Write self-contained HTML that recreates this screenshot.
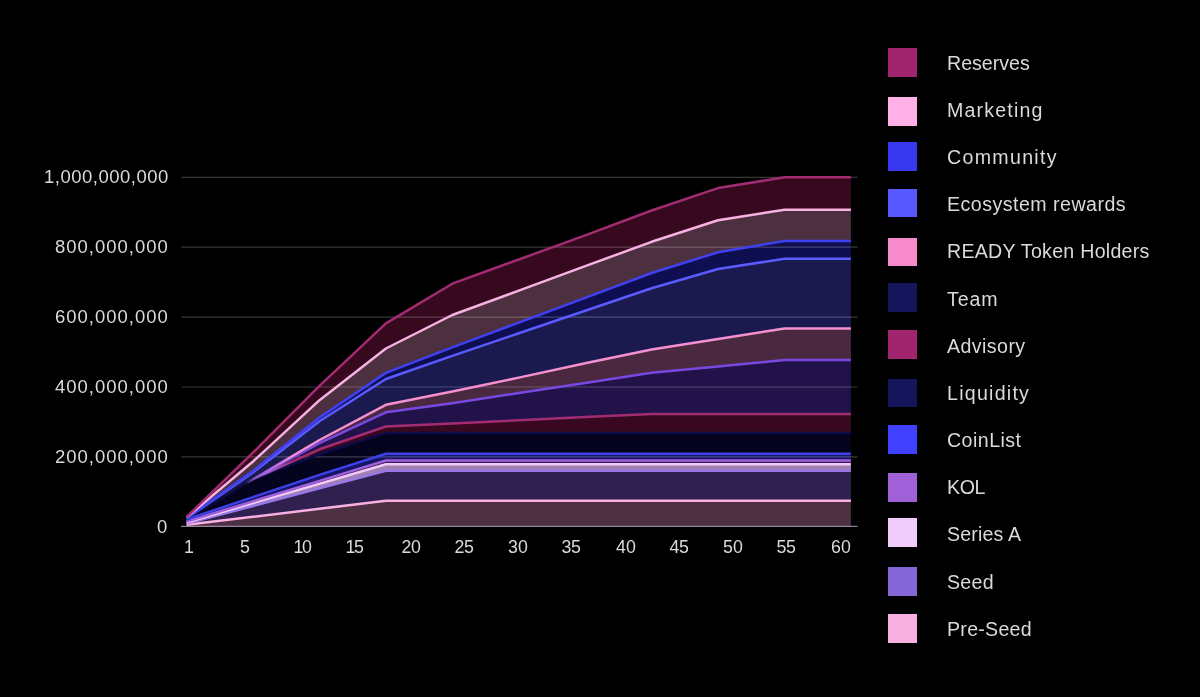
<!DOCTYPE html>
<html><head><meta charset="utf-8"><title>Token release schedule</title>
<style>
html,body{margin:0;padding:0;background:#000;}
body{width:1200px;height:697px;position:relative;overflow:hidden;font-family:"Liberation Sans",sans-serif;color:#dadada;}
svg{position:absolute;left:0;top:0;}
.yl{position:absolute;height:24px;line-height:24px;font-size:18.5px;white-space:nowrap;text-align:right;}
.xl{position:absolute;top:535px;width:40px;text-align:center;height:24px;line-height:24px;font-size:17.8px;white-space:nowrap;}
.sw{position:absolute;left:887.9px;width:28.8px;height:28.8px;}
.lt{position:absolute;left:947.1px;height:24px;line-height:24px;font-size:19.6px;white-space:nowrap;}
.yl,.xl,.lt{will-change:transform;}
</style></head><body>
<svg width="1200" height="697" viewBox="0 0 1200 697">
<defs><linearGradient id="g6" gradientUnits="userSpaceOnUse" x1="246" y1="0" x2="294" y2="0"><stop offset="0" stop-color="#a866e0" stop-opacity="0"/><stop offset="0.45" stop-color="#a866e0" stop-opacity="0.9"/><stop offset="1" stop-color="#a22c72" stop-opacity="1"/></linearGradient><linearGradient id="g7" gradientUnits="userSpaceOnUse" x1="246" y1="0" x2="294" y2="0"><stop offset="0" stop-color="#a866e0" stop-opacity="0"/><stop offset="0.45" stop-color="#a866e0" stop-opacity="0.9"/><stop offset="1" stop-color="#7848e0" stop-opacity="1"/></linearGradient><linearGradient id="g8" gradientUnits="userSpaceOnUse" x1="246" y1="0" x2="294" y2="0"><stop offset="0" stop-color="#a866e0" stop-opacity="0"/><stop offset="0.45" stop-color="#a866e0" stop-opacity="0.9"/><stop offset="1" stop-color="#f590d0" stop-opacity="1"/></linearGradient></defs>
<polygon points="186.6,517.0 253.0,452.7 319.5,385.9 385.9,323.4 452.3,283.7 518.8,259.5 585.2,235.3 651.6,210.5 718.0,188.1 784.5,177.3 850.9,177.3 850.9,209.7 784.5,209.7 718.0,220.3 651.6,241.8 585.2,266.2 518.8,290.6 452.3,315.0 385.9,348.5 319.5,400.2 253.0,461.5 186.6,517.4" fill="#36091f"/>
<polygon points="186.6,517.4 253.0,461.5 319.5,400.2 385.9,348.5 452.3,315.0 518.8,290.6 585.2,266.2 651.6,241.8 718.0,220.3 784.5,209.7 850.9,209.7 850.9,241.0 784.5,241.0 718.0,252.3 651.6,273.0 585.2,297.8 518.8,322.6 452.3,347.3 385.9,372.9 319.5,417.6 253.0,470.9 186.6,518.0" fill="#4d3040"/>
<polygon points="186.6,518.0 253.0,470.9 319.5,417.6 385.9,372.9 452.3,347.3 518.8,322.6 585.2,297.8 651.6,273.0 718.0,252.3 784.5,241.0 850.9,241.0 850.9,258.7 784.5,258.7 718.0,269.0 651.6,288.2 585.2,310.8 518.8,333.3 452.3,355.9 385.9,379.0 319.5,421.3 253.0,472.5 186.6,518.4" fill="#0e0e50"/>
<polygon points="186.6,518.4 253.0,472.5 319.5,421.3 385.9,379.0 452.3,355.9 518.8,333.3 585.2,310.8 651.6,288.2 718.0,269.0 784.5,258.7 850.9,258.7 850.9,328.5 784.5,328.5 718.0,339.0 651.6,349.5 585.2,363.3 518.8,377.6 452.3,391.6 385.9,404.8 319.5,440.0 253.0,479.2 186.6,518.8" fill="#1a1a4e"/>
<polygon points="186.6,518.8 253.0,479.2 319.5,440.0 385.9,404.8 452.3,391.6 518.8,377.6 585.2,363.3 651.6,349.5 718.0,339.0 784.5,328.5 850.9,328.5 850.9,360.0 784.5,360.0 718.0,366.4 651.6,372.8 585.2,382.9 518.8,393.0 452.3,403.2 385.9,412.3 319.5,443.1 253.0,479.2 186.6,518.8" fill="#4a2840"/>
<polygon points="186.6,518.8 253.0,479.2 319.5,443.1 385.9,412.3 452.3,403.2 518.8,393.0 585.2,382.9 651.6,372.8 718.0,366.4 784.5,360.0 850.9,360.0 850.9,414.0 784.5,414.0 718.0,414.0 651.6,414.0 585.2,417.1 518.8,420.3 452.3,423.4 385.9,426.5 319.5,449.3 253.0,479.2 186.6,518.8" fill="#22124a"/>
<polygon points="186.6,518.8 253.0,479.2 319.5,449.3 385.9,426.5 452.3,423.4 518.8,420.3 585.2,417.1 651.6,414.0 718.0,414.0 784.5,414.0 850.9,414.0 850.9,433.1 784.5,433.1 718.0,433.1 651.6,433.1 585.2,433.1 518.8,433.1 452.3,433.1 385.9,433.1 319.5,454.0 253.0,479.2 186.6,518.8" fill="#380820"/>
<polygon points="186.6,518.8 253.0,479.2 319.5,454.0 385.9,433.1 452.3,433.1 518.8,433.1 585.2,433.1 651.6,433.1 718.0,433.1 784.5,433.1 850.9,433.1 850.9,453.7 784.5,453.7 718.0,453.7 651.6,453.7 585.2,453.7 518.8,453.7 452.3,453.7 385.9,453.7 319.5,474.9 253.0,497.1 186.6,519.5" fill="#04041e"/>
<polygon points="186.6,519.5 253.0,497.1 319.5,474.9 385.9,453.7 452.3,453.7 518.8,453.7 585.2,453.7 651.6,453.7 718.0,453.7 784.5,453.7 850.9,453.7 850.9,460.5 784.5,460.5 718.0,460.5 651.6,460.5 585.2,460.5 518.8,460.5 452.3,460.5 385.9,460.5 319.5,480.9 253.0,501.2 186.6,521.5" fill="#15156a"/>
<polygon points="186.6,521.5 253.0,501.2 319.5,480.9 385.9,460.5 452.3,460.5 518.8,460.5 585.2,460.5 651.6,460.5 718.0,460.5 784.5,460.5 850.9,460.5 850.9,464.2 784.5,464.2 718.0,464.2 651.6,464.2 585.2,464.2 518.8,464.2 452.3,464.2 385.9,464.2 319.5,483.7 253.0,503.1 186.6,522.5" fill="#3a1a5a"/>
<polygon points="186.6,522.5 253.0,503.1 319.5,483.7 385.9,464.2 452.3,464.2 518.8,464.2 585.2,464.2 651.6,464.2 718.0,464.2 784.5,464.2 850.9,464.2 850.9,470.8 784.5,470.8 718.0,470.8 651.6,470.8 585.2,470.8 518.8,470.8 452.3,470.8 385.9,470.8 319.5,488.4 253.0,506.0 186.6,523.6" fill="#a080b0"/>
<polygon points="186.6,523.6 253.0,506.0 319.5,488.4 385.9,470.8 452.3,470.8 518.8,470.8 585.2,470.8 651.6,470.8 718.0,470.8 784.5,470.8 850.9,470.8 850.9,500.7 784.5,500.7 718.0,500.7 651.6,500.7 585.2,500.7 518.8,500.7 452.3,500.7 385.9,500.7 319.5,508.8 253.0,516.8 186.6,524.8" fill="#30204f"/>
<polygon points="186.6,524.8 253.0,516.8 319.5,508.8 385.9,500.7 452.3,500.7 518.8,500.7 585.2,500.7 651.6,500.7 718.0,500.7 784.5,500.7 850.9,500.7 850.9,526.4 784.5,526.4 718.0,526.4 651.6,526.4 585.2,526.4 518.8,526.4 452.3,526.4 385.9,526.4 319.5,526.4 253.0,526.4 186.6,526.4" fill="#4d3042"/>
<line x1="181.5" x2="857.5" y1="177.3" y2="177.3" stroke="#ffffff" stroke-opacity="0.22" stroke-width="1.2"/>
<line x1="181.5" x2="857.5" y1="247.2" y2="247.2" stroke="#ffffff" stroke-opacity="0.22" stroke-width="1.2"/>
<line x1="181.5" x2="857.5" y1="317.1" y2="317.1" stroke="#ffffff" stroke-opacity="0.22" stroke-width="1.2"/>
<line x1="181.5" x2="857.5" y1="387.0" y2="387.0" stroke="#ffffff" stroke-opacity="0.22" stroke-width="1.2"/>
<line x1="181.5" x2="857.5" y1="456.9" y2="456.9" stroke="#ffffff" stroke-opacity="0.22" stroke-width="1.2"/>
<line x1="181" x2="857.5" y1="526.4" y2="526.4" stroke="#b8a8c8" stroke-opacity="0.75" stroke-width="1.15"/>
<polyline points="186.6,518.8 253.0,479.2" fill="none" stroke="#5a2a8a" stroke-opacity="0.45" stroke-width="1.6"/>
<polyline points="186.6,524.8 253.0,516.8 319.5,508.8 385.9,500.7 452.3,500.7 518.8,500.7 585.2,500.7 651.6,500.7 718.0,500.7 784.5,500.7 850.9,500.7" fill="none" stroke="#f8b0e0" stroke-width="2.5" stroke-linejoin="round" stroke-linecap="butt"/>
<polyline points="186.6,523.6 253.0,506.0 319.5,488.4 385.9,470.8 452.3,470.8 518.8,470.8 585.2,470.8 651.6,470.8 718.0,470.8 784.5,470.8 850.9,470.8" fill="none" stroke="#9878e8" stroke-width="2.5" stroke-linejoin="round" stroke-linecap="butt"/>
<polyline points="186.6,522.5 253.0,503.1 319.5,483.7 385.9,464.2 452.3,464.2 518.8,464.2 585.2,464.2 651.6,464.2 718.0,464.2 784.5,464.2 850.9,464.2" fill="none" stroke="#f0c8fa" stroke-width="2.5" stroke-linejoin="round" stroke-linecap="butt"/>
<polyline points="186.6,521.5 253.0,501.2 319.5,480.9 385.9,460.5 452.3,460.5 518.8,460.5 585.2,460.5 651.6,460.5 718.0,460.5 784.5,460.5 850.9,460.5" fill="none" stroke="#a060d8" stroke-width="2.5" stroke-linejoin="round" stroke-linecap="butt"/>
<polyline points="186.6,519.5 253.0,497.1 319.5,474.9 385.9,453.7 452.3,453.7 518.8,453.7 585.2,453.7 651.6,453.7 718.0,453.7 784.5,453.7 850.9,453.7" fill="none" stroke="#4040e8" stroke-width="2.5" stroke-linejoin="round" stroke-linecap="butt"/>
<polyline points="186.6,518.8 253.0,479.2 319.5,454.0 385.9,433.1 452.3,433.1 518.8,433.1 585.2,433.1 651.6,433.1 718.0,433.1 784.5,433.1 850.9,433.1" fill="none" stroke="#0c0c48" stroke-width="2.5" stroke-linejoin="round" stroke-linecap="butt"/>
<polyline points="186.6,518.8 253.0,479.2 319.5,449.3 385.9,426.5 452.3,423.4 518.8,420.3 585.2,417.1 651.6,414.0 718.0,414.0 784.5,414.0 850.9,414.0" fill="none" stroke="url(#g6)" stroke-width="2.5" stroke-linejoin="round" stroke-linecap="butt"/>
<polyline points="186.6,518.8 253.0,479.2 319.5,443.1 385.9,412.3 452.3,403.2 518.8,393.0 585.2,382.9 651.6,372.8 718.0,366.4 784.5,360.0 850.9,360.0" fill="none" stroke="url(#g7)" stroke-width="2.5" stroke-linejoin="round" stroke-linecap="butt"/>
<polyline points="186.6,518.8 253.0,479.2 319.5,440.0 385.9,404.8 452.3,391.6 518.8,377.6 585.2,363.3 651.6,349.5 718.0,339.0 784.5,328.5 850.9,328.5" fill="none" stroke="url(#g8)" stroke-width="2.5" stroke-linejoin="round" stroke-linecap="butt"/>
<polyline points="186.6,518.4 253.0,472.5 319.5,421.3 385.9,379.0 452.3,355.9 518.8,333.3 585.2,310.8 651.6,288.2 718.0,269.0 784.5,258.7 850.9,258.7" fill="none" stroke="#5a5aff" stroke-width="2.5" stroke-linejoin="round" stroke-linecap="butt"/>
<polyline points="186.6,518.0 253.0,470.9 319.5,417.6 385.9,372.9 452.3,347.3 518.8,322.6 585.2,297.8 651.6,273.0 718.0,252.3 784.5,241.0 850.9,241.0" fill="none" stroke="#4040f0" stroke-width="2.5" stroke-linejoin="round" stroke-linecap="butt"/>
<polyline points="186.6,517.4 253.0,461.5 319.5,400.2 385.9,348.5 452.3,315.0 518.8,290.6 585.2,266.2 651.6,241.8 718.0,220.3 784.5,209.7 850.9,209.7" fill="none" stroke="#f8b2e2" stroke-width="2.5" stroke-linejoin="round" stroke-linecap="butt"/>
<polyline points="186.6,517.0 253.0,452.7 319.5,385.9 385.9,323.4 452.3,283.7 518.8,259.5 585.2,235.3 651.6,210.5 718.0,188.1 784.5,177.3 850.9,177.3" fill="none" stroke="#a22c72" stroke-width="2.5" stroke-linejoin="round" stroke-linecap="butt"/>
</svg>
<div class="yl" style="top:165.3px;letter-spacing:0.5px;right:1031.6px">1,000,000,000</div><div class="yl" style="top:235.2px;letter-spacing:1.0px;right:1031.1px">800,000,000</div><div class="yl" style="top:305.1px;letter-spacing:1.0px;right:1031.1px">600,000,000</div><div class="yl" style="top:375.0px;letter-spacing:1.0px;right:1031.1px">400,000,000</div><div class="yl" style="top:444.9px;letter-spacing:1.0px;right:1031.1px">200,000,000</div><div class="yl" style="top:514.9px;letter-spacing:0px;right:1033.1px">0</div>
<div class="xl" style="left:168.50px;letter-spacing:0px">1</div><div class="xl" style="left:224.60px;letter-spacing:0px">5</div><div class="xl" style="left:281.65px;letter-spacing:-1.5px">10</div><div class="xl" style="left:334.35px;letter-spacing:-1.5px">15</div><div class="xl" style="left:390.75px;letter-spacing:-0.5px">20</div><div class="xl" style="left:443.85px;letter-spacing:-0.5px">25</div><div class="xl" style="left:498.10px;letter-spacing:0px">30</div><div class="xl" style="left:551.05px;letter-spacing:-0.5px">35</div><div class="xl" style="left:606.20px;letter-spacing:0px">40</div><div class="xl" style="left:659.05px;letter-spacing:-0.5px">45</div><div class="xl" style="left:713.00px;letter-spacing:0px">50</div><div class="xl" style="left:765.50px;letter-spacing:-0.5px">55</div><div class="xl" style="left:820.75px;letter-spacing:0px">60</div>
<div class="sw" style="top:48.0px;background:#a0246e"></div><div class="lt" style="top:50.7px;letter-spacing:0px">Reserves</div><div class="sw" style="top:96.8px;background:#ffb0e6"></div><div class="lt" style="top:97.9px;letter-spacing:1.18px">Marketing</div><div class="sw" style="top:142.4px;background:#3838f0"></div><div class="lt" style="top:145.0px;letter-spacing:1.31px">Community</div><div class="sw" style="top:188.6px;background:#5858ff"></div><div class="lt" style="top:192.2px;letter-spacing:0.48px">Ecosystem rewards</div><div class="sw" style="top:237.5px;background:#f78aca"></div><div class="lt" style="top:239.4px;letter-spacing:0.27px">READY Token Holders</div><div class="sw" style="top:283.4px;background:#15155c"></div><div class="lt" style="top:286.6px;letter-spacing:0.9px">Team</div><div class="sw" style="top:330.1px;background:#a0246e"></div><div class="lt" style="top:333.7px;letter-spacing:0.43px">Advisory</div><div class="sw" style="top:378.7px;background:#15155c"></div><div class="lt" style="top:380.9px;letter-spacing:1.25px">Liquidity</div><div class="sw" style="top:425.3px;background:#4040ff"></div><div class="lt" style="top:428.1px;letter-spacing:0.46px">CoinList</div><div class="sw" style="top:472.9px;background:#a060d8"></div><div class="lt" style="top:475.2px;letter-spacing:-0.4px">KOL</div><div class="sw" style="top:518.3px;background:#f0ccfa"></div><div class="lt" style="top:522.4px;letter-spacing:0.14px">Series A</div><div class="sw" style="top:567.2px;background:#8466d6"></div><div class="lt" style="top:569.6px;letter-spacing:0.3px">Seed</div><div class="sw" style="top:614.0px;background:#f8b0e0"></div><div class="lt" style="top:616.7px;letter-spacing:0.27px">Pre-Seed</div>
</body></html>
